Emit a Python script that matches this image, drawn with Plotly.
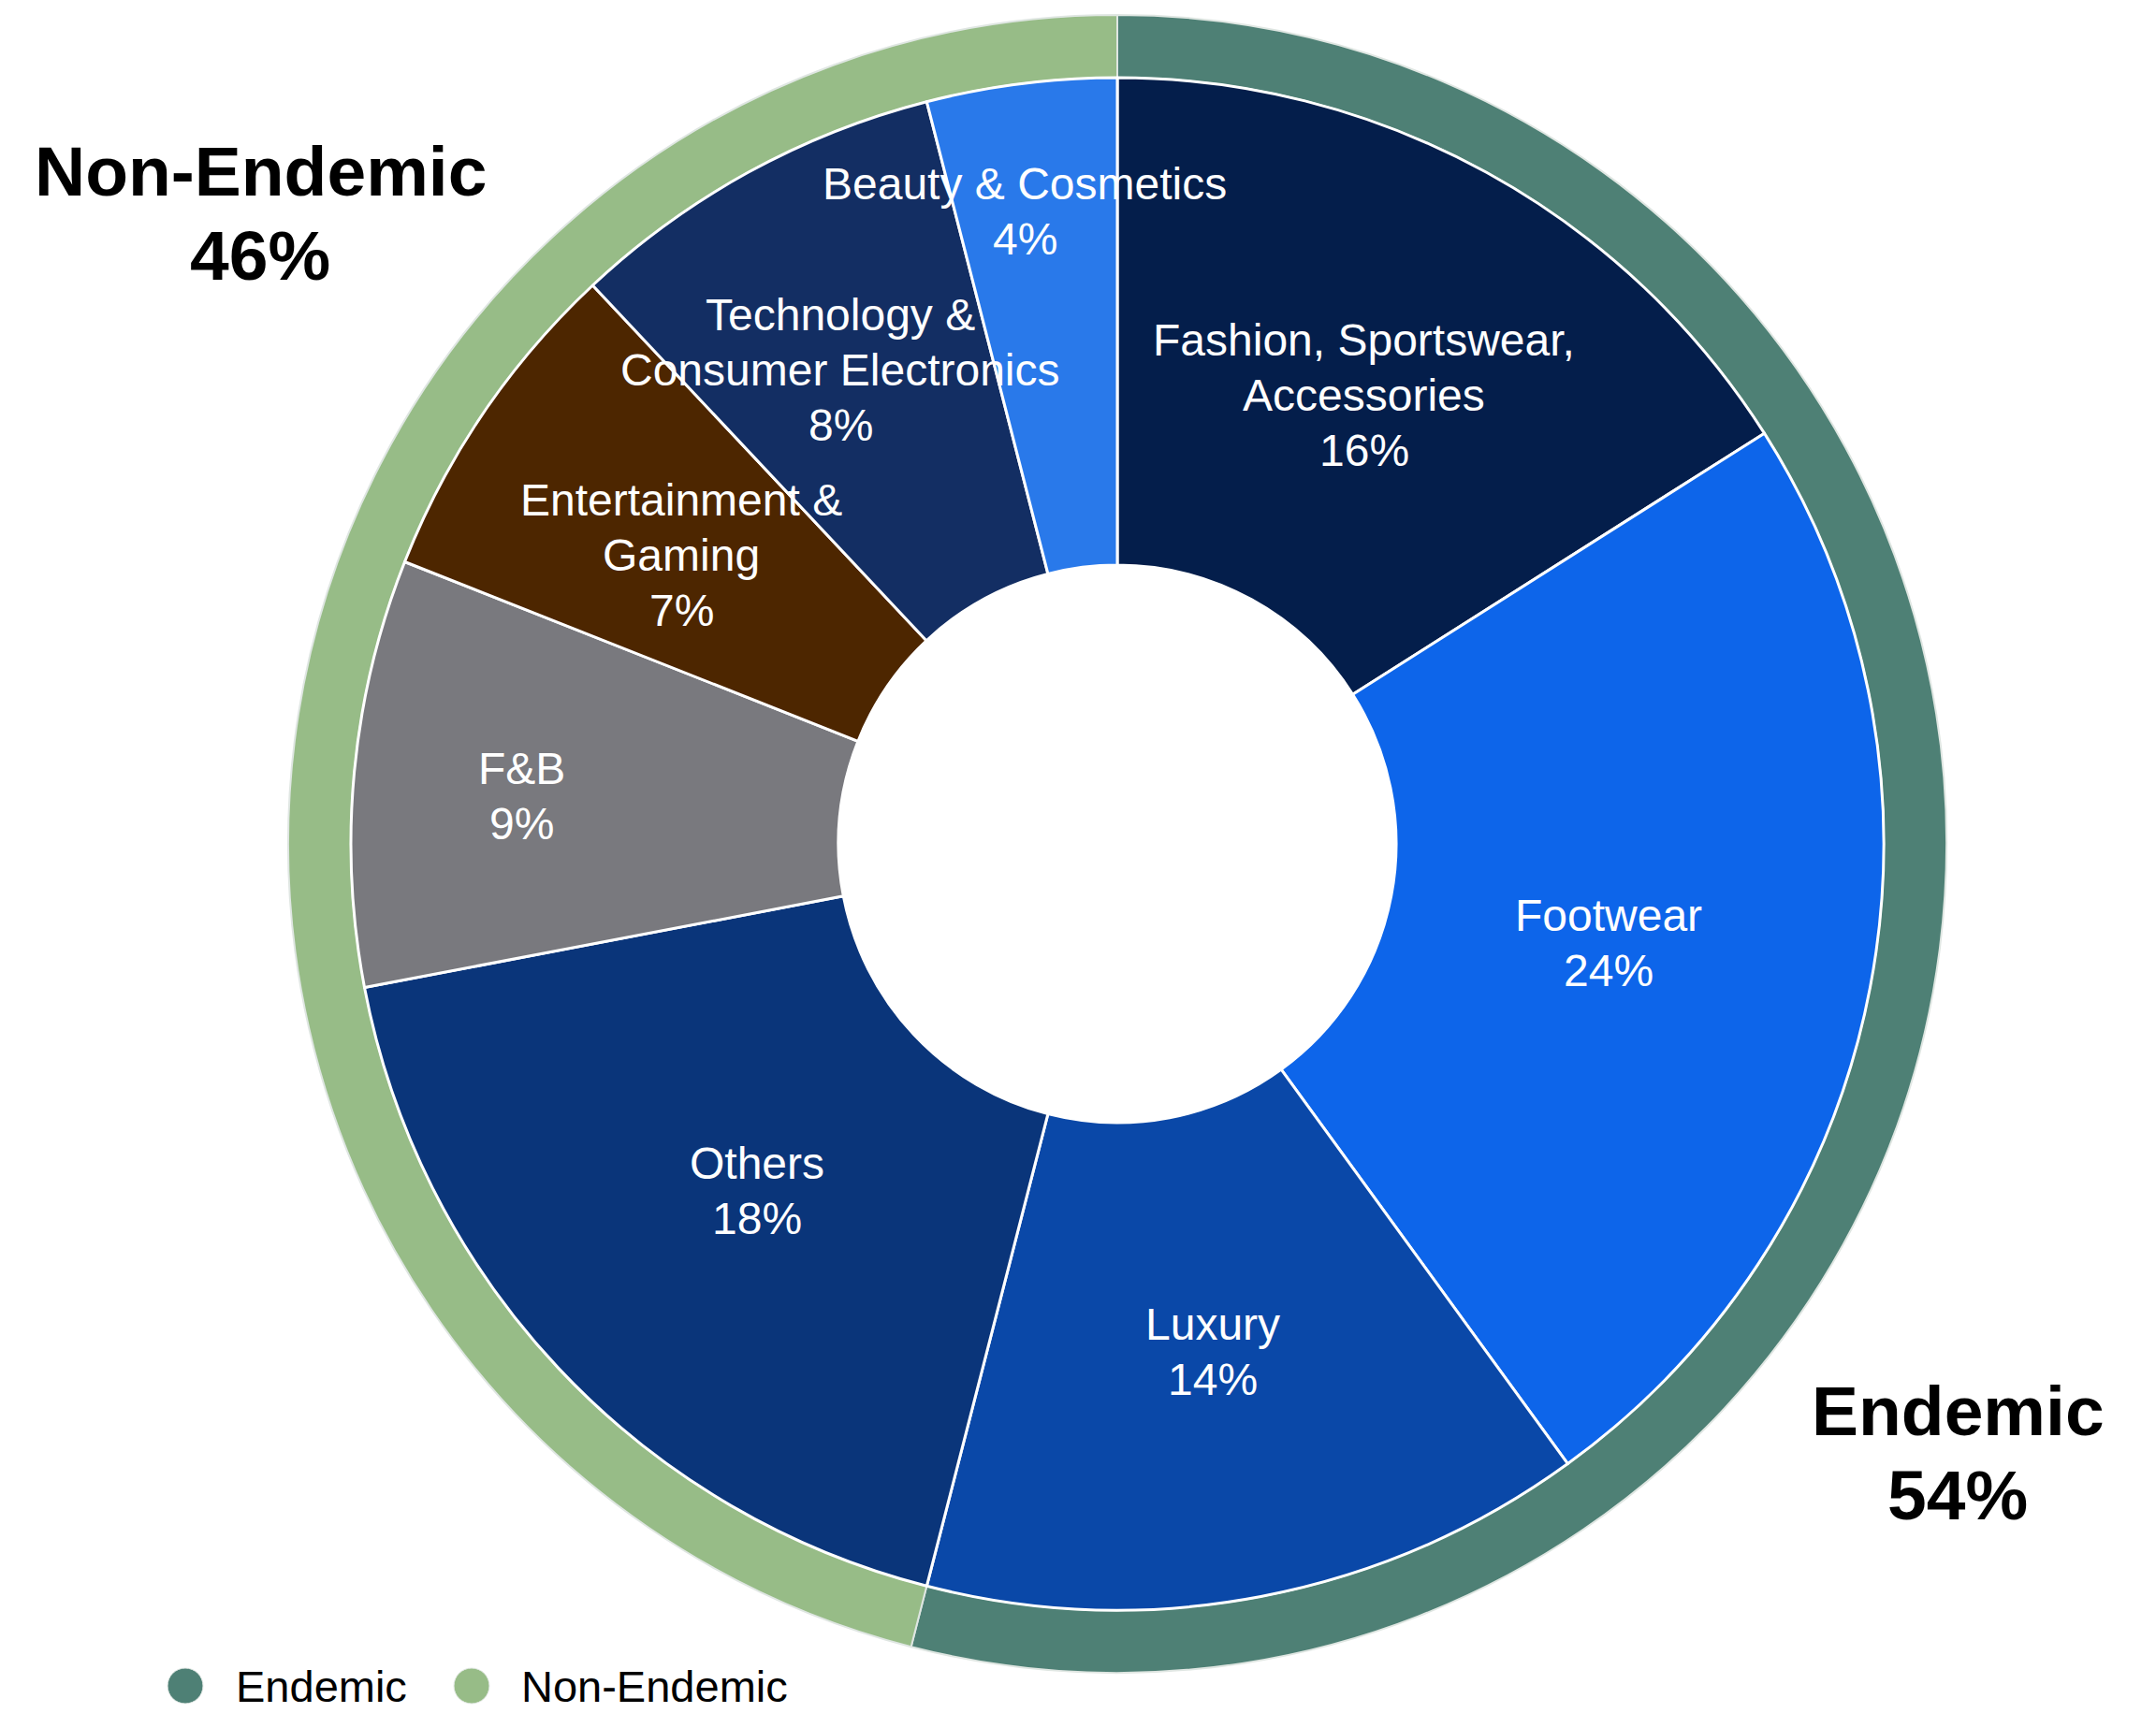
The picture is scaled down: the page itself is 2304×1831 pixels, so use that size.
import numpy as np
import plotly.graph_objects as go

# ---- data ----
categories = [
    "Fashion, Sportswear,<br>Accessories",
    "Footwear",
    "Luxury",
    "Others",
    "F&B",
    "Entertainment &<br>Gaming",
    "Technology &<br>Consumer Electronics",
    "Beauty & Cosmetics",
]
shares = [16, 24, 14, 18, 9, 7, 8, 4]

groups = ["Endemic", "Non-Endemic"]
group_shares = [54, 46]

# ---- styling ----
slice_colors = ["#041E4B", "#0D65EA", "#0A48A8", "#0A357A",
                "#79797E", "#4D2600", "#132E63", "#2979EA"]
group_colors = ["#4E8075", "#97BC87"]
# slice label placement: fraction of the inner pie radius, and a small
# angular nudge (degrees) away from the slice mid-angle
label_radius = [0.668, 0.654, 0.675, 0.653, 0.78, 0.682, 0.716, 0.834]
label_nudge = [0.0, 0.6, 0.2, -0.75, -0.8, -0.7, -1.5, -1.1]

W, H = 2304, 1831
CX, CY = 1194, 902          # pie centre in pixels (from top-left)
R_OUTER, R_INNER, R_HOLE = 886, 819, 298

FONT = "Liberation Sans, Arial, Helvetica, sans-serif"
SLICE_FONT = 48
SLICE_LINE_GAP = 59
GROUP_FONT = 75
GROUP_LINE_GAP = 90
LEGEND_FONT = 47


def domain(r):
    return dict(
        x=[(CX - r) / W, (CX + r) / W],
        y=[(H - CY - r) / H, (H - CY + r) / H],
    )


def text_block(lines, px, py, gap, font, bold=False):
    """Centred stack of single-line annotations around pixel (px, py)."""
    out = []
    n = len(lines)
    for i, line in enumerate(lines):
        ly = py + (i - (n - 1) / 2) * gap
        out.append(dict(
            x=px / W, y=1 - ly / H, xref="paper", yref="paper",
            text=f"<b>{line}</b>" if bold else line, showarrow=False,
            xanchor="center", yanchor="middle", align="center",
            font=font,
        ))
    return out


fig = go.Figure()

# outer ring: Endemic / Non-Endemic
fig.add_trace(go.Pie(
    labels=groups,
    values=group_shares,
    sort=False,
    direction="clockwise",
    rotation=0,
    hole=R_INNER / R_OUTER,
    domain=domain(R_OUTER),
    marker=dict(colors=group_colors, line=dict(color="#dfe6e2", width=2)),
    textinfo="none",
    hoverinfo="label+percent",
    showlegend=False,
))

# inner donut: categories
fig.add_trace(go.Pie(
    labels=categories,
    values=shares,
    sort=False,
    direction="clockwise",
    rotation=0,
    hole=R_HOLE / R_INNER,
    domain=domain(R_INNER),
    marker=dict(colors=slice_colors, line=dict(color="white", width=3)),
    textinfo="none",
    hoverinfo="label+percent",
    showlegend=False,
))

# slice labels placed around each slice's mid-angle
vals = np.array(shares, dtype=float)
mid = (np.cumsum(vals) - vals / 2) / vals.sum() * 360.0
annotations = []
slice_font = dict(family=FONT, size=SLICE_FONT, color="white")
for cat, v, a, f, d in zip(categories, shares, mid, label_radius, label_nudge):
    ang = np.deg2rad(a + d)
    px = CX + f * R_INNER * np.sin(ang)
    py = CY - f * R_INNER * np.cos(ang)
    lines = cat.split("<br>") + [f"{v}%"]
    annotations += text_block(lines, px, py, SLICE_LINE_GAP, slice_font)

# group labels outside the ring
group_label_pos = {"Endemic": (2092, 1553), "Non-Endemic": (278, 228)}
group_font = dict(family=FONT, size=GROUP_FONT, color="black")
for g, v in zip(groups, group_shares):
    gx, gy = group_label_pos[g]
    annotations += text_block([g, f"{v}%"], gx, gy, GROUP_LINE_GAP,
                              group_font, bold=True)

# legend with circular swatches
shapes = []
legend_y = 1802
legend_items = [(198, 250), (504, 555)]
for (mx, tx), g, c in zip(legend_items, groups, group_colors):
    r = 19
    shapes.append(dict(
        type="circle", xref="paper", yref="paper",
        x0=(mx - r) / W, x1=(mx + r) / W,
        y0=1 - (legend_y + r) / H, y1=1 - (legend_y - r) / H,
        fillcolor=c, line=dict(color="#e6ebe8", width=1),
    ))
    annotations.append(dict(
        x=tx / W, y=1 - legend_y / H, xref="paper", yref="paper",
        text=g, showarrow=False, xanchor="left", yanchor="middle",
        font=dict(family=FONT, size=LEGEND_FONT, color="black"),
    ))

fig.update_layout(
    width=W, height=H,
    margin=dict(l=0, r=0, t=0, b=0),
    paper_bgcolor="white",
    plot_bgcolor="white",
    annotations=annotations,
    shapes=shapes,
    showlegend=False,
)

fig.write_html("out.html")
